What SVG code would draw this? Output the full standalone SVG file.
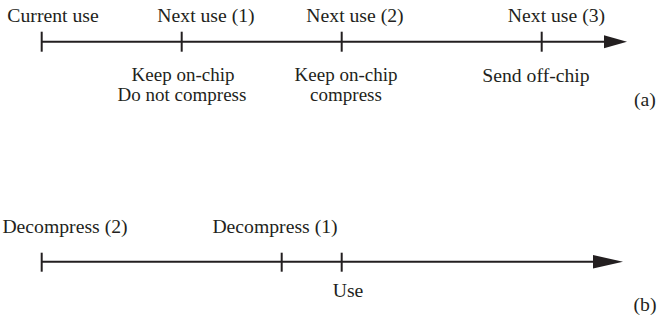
<svg xmlns="http://www.w3.org/2000/svg" width="662" height="328" viewBox="0 0 662 328">
  <style>
    text { font-family: "Liberation Serif", "DejaVu Serif", "Times New Roman", Times, serif; font-size: 19.7px; fill: #231f20; text-anchor: middle; }
    .two { font-size: 19px; }
    .axis { stroke: #231f20; stroke-width: 2; fill: none; }
    .tick { stroke: #231f20; stroke-width: 2; }
    .head { fill: #231f20; }
  </style>
  <rect width="662" height="328" fill="#ffffff"/>

  <!-- axis lines with filled arrowheads -->
  <g id="connectors">
    <line class="axis" x1="41.5" y1="41.7" x2="606" y2="41.7"/>
    <polygon class="head" points="604,35.2 627,41.7 604,48.2"/>
    <line class="axis" x1="41.5" y1="261.7" x2="595" y2="261.7"/>
    <polygon class="head" points="593,255 623,261.7 593,268.4"/>
  </g>

  <!-- (a) timeline of uses -->
  <g id="current-use">
    <line class="tick" x1="41.7" y1="31.7" x2="41.7" y2="51.7"/>
    <text x="53" y="21.5" font-family="Liberation Serif, serif">Current use</text>
  </g>
  <g id="next-use-1">
    <line class="tick" x1="181.7" y1="31.7" x2="181.7" y2="51.7"/>
    <text x="206" y="21.5">Next use (1)</text>
    <text class="two" x="183" y="80.5">Keep on-chip</text>
    <text class="two" x="182" y="101">Do not compress</text>
  </g>
  <g id="next-use-2">
    <line class="tick" x1="341.7" y1="31.7" x2="341.7" y2="51.7"/>
    <text x="355" y="21.5">Next use (2)</text>
    <text class="two" x="346" y="80.5">Keep on-chip</text>
    <text class="two" x="346" y="101">compress</text>
  </g>
  <g id="next-use-3">
    <line class="tick" x1="541.7" y1="31.7" x2="541.7" y2="51.7"/>
    <text x="556.5" y="21.5">Next use (3)</text>
    <text x="536" y="81.5">Send off-chip</text>
  </g>
  <g id="label-a">
    <text x="645" y="106">(a)</text>
  </g>

  <!-- (b) timeline of decompression -->
  <g id="decompress-2">
    <line class="tick" x1="41.7" y1="252.7" x2="41.7" y2="271.7"/>
    <text x="65" y="233">Decompress (2)</text>
  </g>
  <g id="decompress-1">
    <line class="tick" x1="281.7" y1="252.7" x2="281.7" y2="271.7"/>
    <text x="275" y="233">Decompress (1)</text>
  </g>
  <g id="use">
    <line class="tick" x1="341.7" y1="252.7" x2="341.7" y2="271.7"/>
    <text x="348" y="297">Use</text>
  </g>
  <g id="label-b">
    <text x="645" y="311">(b)</text>
  </g>
</svg>
